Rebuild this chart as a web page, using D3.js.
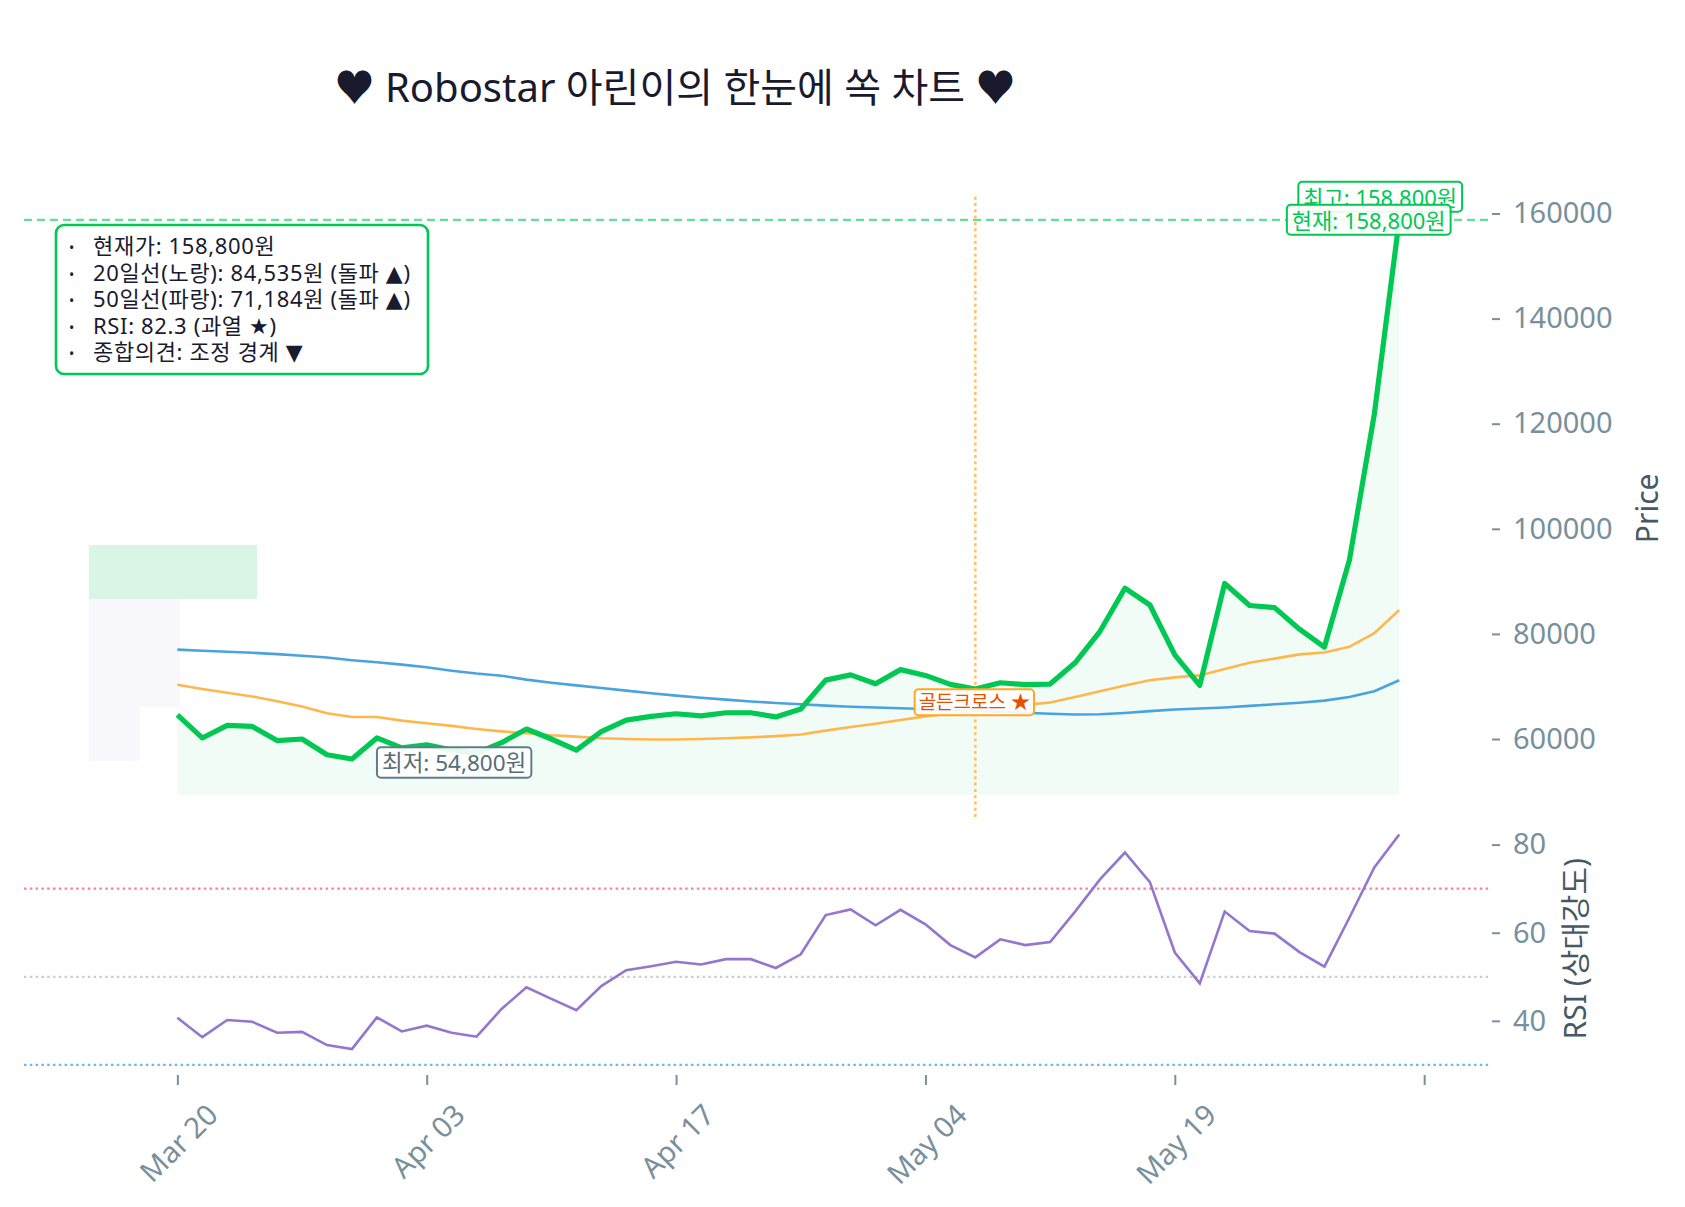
<!DOCTYPE html>
<html>
<head>
<meta charset="UTF-8">
<script src="https://d3js.org/d3.v7.min.js"></script>
<style>
    body { margin: 0; background: #fff; }
    svg text { font-family: "Noto Sans", "Noto Sans CJK KR", sans-serif; }
    .axis path.domain { display: none; }
    .axis line { stroke: #78909c; stroke-width: 2; }
    .axis text { fill: #78909c; font-size: 29px; }
    .ylab { fill: #455a64; font-size: 30px; }
    .info text { font-family: "Noto Sans", "DejaVu Sans", "Noto Sans CJK KR", sans-serif; }
</style>
</head>
<body>
<svg id="chart" width="1685" height="1207"></svg>
<script>
// ---- data ----
const closePrice = [64600, 60200, 62600, 62400, 59700, 60000, 57000, 56200, 60200, 58300,
                    58900, 57900, 57300, 59300, 61900, 60000, 57900, 61400, 63600, 64300,
                    64800, 64400, 65000, 65000, 64200, 65700, 71200, 72200, 70500, 73200,
                    72100, 70400, 69500, 70700, 70350, 70450, 74500, 80500, 88700, 85500,
                    76000, 70200, 89600, 85400, 85000, 80900, 77500, 94000, 121800, 158800];
const ma20 = [70330, 69500, 68800, 68100, 67200, 66200, 64900, 64200, 64200, 63500,
              63000, 62500, 61900, 61450, 61100, 60700, 60450, 60150, 60000, 59900,
              59900, 60000, 60150, 60300, 60550, 60850, 61600, 62300, 62900, 63600,
              64300, 64900, 65500, 66100, 66500, 66960, 68000, 69080, 70200, 71190,
              71720, 72100, 73300, 74500, 75300, 76100, 76460, 77530, 80150, 84535];
const ma50 = [77000, 76800, 76600, 76400, 76150, 75850, 75500, 75000, 74600, 74150,
              73650, 73000, 72450, 72050, 71300, 70700, 70200, 69700, 69200, 68700,
              68250, 67850, 67500, 67150, 66850, 66600, 66350, 66150, 66000, 65850,
              65700, 65550, 65400, 65200, 65000, 64800, 64650, 64700, 64950, 65300,
              65600, 65800, 66000, 66300, 66600, 66900, 67300, 68000, 69100, 71184];
const rsi = [40.7, 36.3, 40.2, 39.8, 37.3, 37.5, 34.5, 33.6, 40.8, 37.6,
             38.9, 37.3, 36.4, 42.7, 47.6, 45.0, 42.4, 47.9, 51.5, 52.4,
             53.4, 52.8, 54.0, 54.0, 52.0, 55.1, 64.0, 65.3, 61.7, 65.2,
             61.9, 57.2, 54.4, 58.5, 57.2, 57.9, 64.8, 72.1, 78.2, 71.5,
             55.5, 48.5, 64.8, 60.4, 59.8, 55.6, 52.3, 63.4, 74.8, 82.3];

const xTickIdx = [0, 10, 20, 30, 40, 50];
const xTickLabels = ["Mar 20", "Apr 03", "Apr 17", "May 04", "May 19", ""];
const priceTicks = [60000, 80000, 100000, 120000, 140000, 160000];
const rsiTicks = [40, 60, 80];
const rsiLevels = [70, 50, 30];
const rsiLevelColors = ["#ff7f9b", "#c5cfd4", "#64bdea"];

const maxPrice = 158800;
const minPrice = 54800;
const fillBase = 49320;       // 최저가 * 0.9
const goldenIdx = 32;

const infoLines = [
    "현재가: 158,800원",
    "20일선(노랑): 84,535원 (돌파 ▲)",
    "50일선(파랑): 71,184원 (돌파 ▲)",
    "RSI: 82.3 (과열 ★)",
    "종합의견: 조정 경계 ▼"
];

// odd pale blocks at the left edge (data units)
const paleBlocks = [
    {x0: -3.55, x1: 3.2, y0: 86640, y1: 96900, c: "#d9f5e5"},
    {x0: -3.55, x1: 0.1, y0: 66090, y1: 86640, c: "#f8f8fc"},
    {x0: -3.55, x1: -1.5, y0: 55810, y1: 66090, c: "#f8f8fc"}
];

// ---- scales ----
const svg = d3.select("#chart");
const x = d3.scaleLinear().domain([-6.15, 52.68]).range([24, 1491]);
const yP = d3.scaleLinear().domain([44586, 163197]).range([820, 196.7]);
const yR = d3.scaleLinear().domain([27.85, 84.9]).range([1074.4, 823]);

// title
svg.append("text")
    .attr("x", 675).attr("y", 86)
    .attr("text-anchor", "middle").attr("dominant-baseline", "central")
    .style("font-size", "40px").style("fill", "#1a1a2e")
    .text("♥ Robostar 아린이의 한눈에 쏙 차트 ♥");

// pale blocks
svg.append("g").selectAll("rect")
    .data(paleBlocks).enter().append("rect")
    .attr("x", d => x(d.x0)).attr("width", d => x(d.x1) - x(d.x0))
    .attr("y", d => yP(d.y1)).attr("height", d => yP(d.y0) - yP(d.y1))
    .style("fill", d => d.c);

// price area fill
const area = d3.area().x((d, i) => x(i)).y0(yP(fillBase)).y1(d => yP(d));
svg.append("path").datum(closePrice)
    .attr("d", area).style("fill", "#00c853").style("fill-opacity", 0.06);

const line = d3.line().x((d, i) => x(i)).y(d => yP(d));
svg.append("path").datum(ma50).attr("d", line)
    .style("fill", "none").style("stroke", "#4aa3df").style("stroke-width", 2.6);
svg.append("path").datum(ma20).attr("d", line)
    .style("fill", "none").style("stroke", "#ffb74d").style("stroke-width", 2.6);
svg.append("path").datum(closePrice).attr("d", line)
    .style("fill", "none").style("stroke", "#00c853").style("stroke-width", 5.2)
    .style("stroke-linejoin", "round");

// max price dashed line
svg.append("line")
    .attr("x1", x.range()[0]).attr("x2", x.range()[1])
    .attr("y1", yP(maxPrice)).attr("y2", yP(maxPrice))
    .style("stroke", "#00c853").style("stroke-opacity", 0.6)
    .style("stroke-width", 2.2).style("stroke-dasharray", "8,5");

// golden cross vertical line
svg.append("line")
    .attr("x1", x(goldenIdx)).attr("x2", x(goldenIdx))
    .attr("y1", yP.range()[1]).attr("y2", yP.range()[0])
    .style("stroke", "#ffb74d").style("stroke-opacity", 0.85)
    .style("stroke-width", 2.6).style("stroke-dasharray", "3,3.3");

// RSI panel
svg.append("g").selectAll("line")
    .data(rsiLevels).enter().append("line")
    .attr("x1", x.range()[0]).attr("x2", x.range()[1])
    .attr("y1", d => yR(d)).attr("y2", d => yR(d))
    .style("stroke", (d, i) => rsiLevelColors[i])
    .style("stroke-width", 2.2).style("stroke-dasharray", "2.5,3.3");

const rsiLine = d3.line().x((d, i) => x(i)).y(d => yR(d));
svg.append("path").datum(rsi).attr("d", rsiLine)
    .style("fill", "none").style("stroke", "#9575cd").style("stroke-width", 2.6);

// axes
const axisX = 1492;
svg.append("g").attr("class", "axis")
    .attr("transform", `translate(${axisX},0)`)
    .call(d3.axisRight(yP).tickValues(priceTicks).tickSize(8).tickPadding(13).tickFormat(d3.format("d")));
svg.append("g").attr("class", "axis")
    .attr("transform", `translate(${axisX},0)`)
    .call(d3.axisRight(yR).tickValues(rsiTicks).tickSize(8).tickPadding(13).tickFormat(d3.format("d")));

const xAxis = svg.append("g").attr("class", "axis")
    .attr("transform", "translate(0,1075)")
    .call(d3.axisBottom(x).tickValues(xTickIdx).tickSize(10)
        .tickFormat((d, i) => xTickLabels[i]));
xAxis.selectAll("text").each(function () {
    const t = d3.select(this);
    const L = this.getComputedTextLength();
    const side = (L + 30) * Math.SQRT1_2;
    t.attr("y", null).attr("dy", null)
        .attr("text-anchor", "middle").attr("dominant-baseline", "central")
        .attr("transform", `translate(0,${23 + side / 2}) rotate(-45)`);
});

svg.append("text").attr("class", "ylab")
    .attr("transform", `translate(1646,${(yP.range()[0] + yP.range()[1]) / 2}) rotate(-90)`)
    .attr("text-anchor", "middle").attr("dominant-baseline", "central")
    .text("Price");
svg.append("text").attr("class", "ylab")
    .attr("transform", `translate(1574,${(yR.range()[0] + yR.range()[1]) / 2}) rotate(-90)`)
    .attr("text-anchor", "middle").attr("dominant-baseline", "central")
    .text("RSI (상대강도)");

// annotation boxes
function labelBox(cx, cy, txt, size, color, border, padX, padY) {
    const g = svg.append("g");
    const t = g.append("text")
        .attr("x", cx).attr("y", cy)
        .attr("text-anchor", "middle").attr("dominant-baseline", "central")
        .style("font-size", size + "px").style("fill", color)
        .text(txt);
    const b = t.node().getBBox();
    g.insert("rect", "text")
        .attr("x", b.x - padX).attr("y", cy - size / 2 - padY)
        .attr("width", b.width + 2 * padX).attr("height", size + 2 * padY)
        .attr("rx", 4)
        .style("fill", "#fff").style("fill-opacity", 0.9)
        .style("stroke", border).style("stroke-width", 2);
}

const last = closePrice.length - 1;
labelBox(x(last) - 19, yP(maxPrice) - 23, "최고: " + d3.format(",")(maxPrice) + "원", 22, "#00c853", "#00c853", 5, 4);
labelBox(x(last) - 30.5, yP(closePrice[last]), "현재: " + d3.format(",")(closePrice[last]) + "원", 22, "#00c853", "#00c853", 5, 4);
labelBox(x(11.1), yP(55530), "최저: " + d3.format(",")(minPrice) + "원", 22.5, "#546e7a", "#607d8b", 5, 4);
labelBox(x(goldenIdx) - 1, yP(67000), "골든크로스 ★", 19, "#e65100", "#ffa726", 4, 3.5);

// info box (one text block, one line per tspan)
const info = svg.append("g").attr("class", "info");
info.append("rect")
    .attr("x", 56).attr("y", 225).attr("width", 372).attr("height", 149)
    .attr("rx", 8)
    .style("fill", "#fff").style("fill-opacity", 0.9)
    .style("stroke", "#00c853").style("stroke-width", 2.6);
const infoText = info.append("text")
    .style("font-size", "22px").style("fill", "#1a1a2e");
infoLines.forEach((s, i) => {
    const yy = 254 + i * 26.6;
    infoText.append("tspan").attr("x", 69).attr("y", yy - 1)
        .style("font-size", "14px").text("•");
    infoText.append("tspan").attr("x", 93).attr("y", yy)
        .style("letter-spacing", "0.65px").text(s);
});
</script>
</body>
</html>
